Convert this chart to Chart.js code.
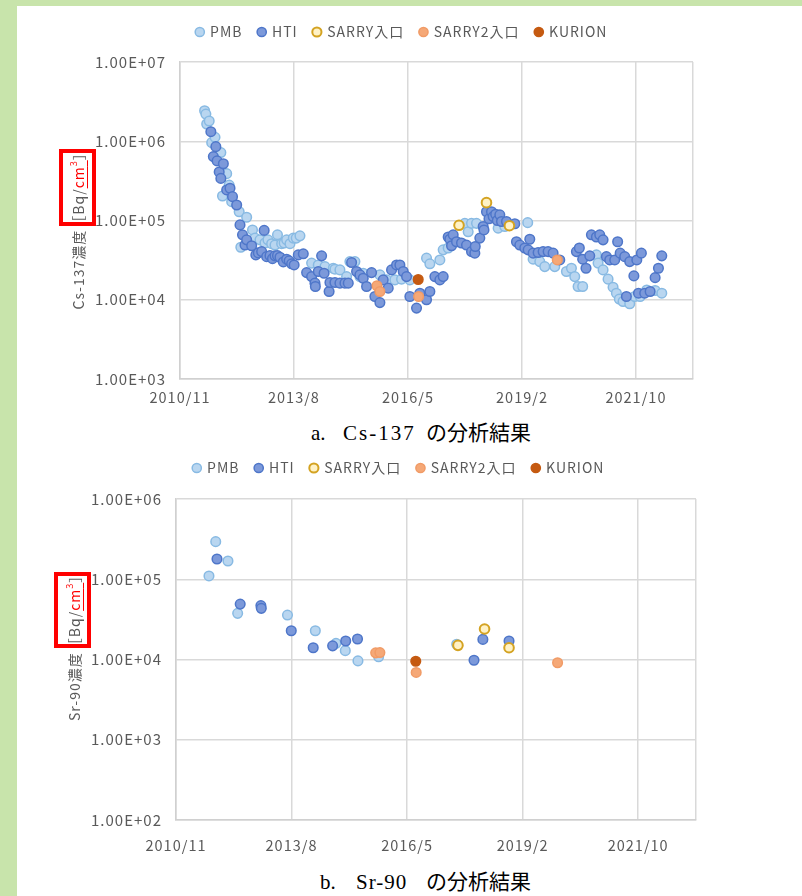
<!DOCTYPE html>
<html>
<head>
<meta charset="utf-8">
<script src="https://cdn.jsdelivr.net/npm/chart.js@4.4.1/dist/chart.umd.min.js"></script>
<style>
    html, body { margin: 0; padding: 0; }
    body { width: 802px; height: 896px; background: #c8e4ab; position: relative; overflow: hidden; }
    #sheet { position: absolute; left: 17px; top: 6px; width: 785px; height: 890px; background: #fff; }
    .chartBox { position: absolute; left: 17px; }
    #boxA { top: 6px; }
    #boxB { top: 440px; }
    .caption { position: absolute; font-family: "Liberation Serif", "Noto Sans CJK JP", serif; font-size: 21px; color: #000; white-space: nowrap; line-height: 24px; }
</style>
</head>
<body>
<div id="sheet"></div>
<div class="chartBox" id="boxA"><canvas id="chartA" width="785" height="413"></canvas></div>
<div class="caption" style="left:311px; top:421px;">a.</div>
<div class="caption" style="left:343px; top:421px; letter-spacing:2px;">Cs-137</div>
<div class="caption" style="left:426px; top:421px;">の分析結果</div>
<div class="chartBox" id="boxB"><canvas id="chartB" width="785" height="420"></canvas></div>
<div class="caption" style="left:320px; top:870px;">b.</div>
<div class="caption" style="left:356px; top:870px; letter-spacing:1px;">Sr-90</div>
<div class="caption" style="left:426px; top:870px;">の分析結果</div>
<script>
// 系列名
const seriesNames = ['PMB', 'HTI', 'SARRY入口', 'SARRY2入口', 'KURION'];

// x軸 (年, 小数) の目盛り
const xMin = 2010.879;
const xMax = 2023.2;
const xTickValues = [2010.879, 2013.616, 2016.355, 2019.093, 2021.830];
const xTickLabels = ['2010/11', '2013/8', '2016/5', '2019/2', '2021/10'];

// y軸の目盛り
const yTicksCs = [1e3, 1e4, 1e5, 1e6, 1e7];
const yTickLabelsCs = ['1.00E+03', '1.00E+04', '1.00E+05', '1.00E+06', '1.00E+07'];
const yTicksSr = [1e2, 1e3, 1e4, 1e5, 1e6];
const yTickLabelsSr = ['1.00E+02', '1.00E+03', '1.00E+04', '1.00E+05', '1.00E+06'];

// Cs-137 [年, Bq/cm3]
const csPMB = [
    [2011.47, 2.43e6], [2011.50, 2.2e6], [2011.52, 1.65e6], [2011.58, 1.8e6], [2011.64, 9.6e5],
    [2011.72, 1.12e6], [2011.86, 7.2e5], [2011.90, 2.04e5], [2012.00, 3.9e5], [2012.06, 2.8e5],
    [2012.12, 1.73e5], [2012.30, 1.29e5], [2012.34, 4.6e4], [2012.48, 1.1e5], [2012.62, 7.6e4],
    [2012.68, 6.0e4], [2012.80, 5.7e4], [2012.92, 5.2e4], [2012.99, 5.7e4], [2013.08, 5.1e4],
    [2013.16, 4.9e4], [2013.22, 6.6e4], [2013.32, 5.1e4], [2013.38, 5.2e4], [2013.44, 5.7e4],
    [2013.52, 5.1e4], [2013.60, 6.0e4], [2013.67, 6.0e4], [2013.76, 6.4e4], [2014.04, 2.9e4],
    [2014.20, 2.75e4], [2014.36, 2.62e4], [2014.56, 2.5e4], [2014.60, 2.43e4], [2014.72, 2.38e4],
    [2014.88, 1.96e4], [2014.96, 3.03e4], [2015.08, 3.03e4], [2015.20, 1.96e4], [2015.28, 2.16e4],
    [2015.68, 2.06e4], [2015.84, 1.78e4], [2016.04, 1.78e4], [2016.20, 1.82e4], [2016.40, 1.78e4],
    [2016.80, 3.35e4], [2016.88, 2.84e4], [2017.12, 3.18e4], [2017.20, 4.26e4], [2017.32, 4.5e4],
    [2017.52, 5.4e4], [2017.72, 9.2e4], [2017.80, 7.2e4], [2017.88, 9.2e4], [2018.00, 9.2e4],
    [2018.52, 8.0e4], [2018.68, 8.4e4], [2019.23, 9.4e4], [2019.36, 3.25e4], [2019.52, 3.03e4],
    [2019.64, 2.62e4], [2019.88, 2.62e4], [2020.16, 2.27e4], [2020.28, 2.5e4], [2020.36, 1.96e4],
    [2020.44, 1.47e4], [2020.55, 1.47e4], [2020.88, 3.68e4], [2020.92, 2.9e4], [2021.04, 2.38e4],
    [2021.16, 1.82e4], [2021.28, 1.44e4], [2021.36, 1.21e4], [2021.43, 1.02e4], [2021.52, 9.5e3],
    [2021.68, 8.9e3], [2021.80, 1.1e4], [2021.93, 1.1e4], [2022.09, 1.33e4], [2022.29, 1.31e4],
    [2022.45, 1.21e4]
];
const csHTI = [
    [2011.62, 1.32e6], [2011.68, 6.4e5], [2011.74, 8.55e5], [2011.77, 5.65e5], [2011.82, 4.1e5],
    [2011.86, 3.4e5], [2011.92, 5.2e5], [2012.00, 2.43e5], [2012.08, 2.55e5], [2012.14, 2.0e5],
    [2012.24, 1.57e5], [2012.32, 8.8e4], [2012.38, 6.6e4], [2012.44, 4.9e4], [2012.48, 5.7e4],
    [2012.60, 4.8e4], [2012.70, 3.68e4], [2012.76, 3.9e4], [2012.84, 4.05e4], [2012.90, 7.5e4],
    [2012.96, 3.5e4], [2013.04, 3.6e4], [2013.10, 3.3e4], [2013.16, 3.58e4], [2013.22, 3.6e4],
    [2013.28, 3.44e4], [2013.36, 3.0e4], [2013.44, 3.25e4], [2013.50, 3.1e4], [2013.56, 2.84e4],
    [2013.62, 2.75e4], [2013.72, 3.68e4], [2013.84, 3.8e4], [2013.92, 2.2e4], [2014.04, 1.96e4],
    [2014.12, 1.62e4], [2014.13, 1.47e4], [2014.20, 2.27e4], [2014.28, 3.58e4], [2014.34, 2.16e4],
    [2014.46, 1.27e4], [2014.48, 1.65e4], [2014.60, 1.65e4], [2014.72, 1.62e4], [2014.84, 1.62e4],
    [2014.92, 1.62e4], [2015.00, 2.95e4], [2015.12, 2.27e4], [2015.20, 2.06e4], [2015.28, 1.87e4],
    [2015.36, 1.47e4], [2015.48, 2.2e4], [2015.56, 1.1e4], [2015.68, 9.2e3], [2015.76, 1.78e4],
    [2015.88, 1.4e4], [2015.96, 2.38e4], [2016.08, 2.75e4], [2016.16, 2.75e4], [2016.24, 2.27e4],
    [2016.32, 1.96e4], [2016.40, 1.1e4], [2016.56, 7.85e3], [2016.64, 1.21e4], [2016.80, 1.0e4],
    [2016.88, 1.27e4], [2017.00, 1.96e4], [2017.12, 1.78e4], [2017.20, 1.96e4], [2017.32, 6.2e4],
    [2017.36, 5.8e4], [2017.40, 4.8e4], [2017.44, 6.6e4], [2017.52, 5.4e4], [2017.64, 5.2e4],
    [2017.76, 4.9e4], [2017.88, 4.05e4], [2017.96, 3.87e4], [2017.97, 4.7e4], [2018.08, 6.0e4],
    [2018.16, 8.4e4], [2018.18, 7.6e4], [2018.24, 1.29e5], [2018.30, 1.05e5], [2018.36, 1.29e5],
    [2018.40, 1.12e5], [2018.46, 1.2e5], [2018.50, 1.0e5], [2018.56, 1.18e5], [2018.60, 9.7e4],
    [2018.72, 9.7e4], [2018.92, 9.1e4], [2018.96, 5.4e4], [2019.04, 4.9e4], [2019.16, 4.5e4],
    [2019.24, 4.26e4], [2019.28, 5.8e4], [2019.36, 3.87e4], [2019.48, 3.95e4], [2019.60, 4.05e4],
    [2019.72, 4.05e4], [2019.84, 3.87e4], [2020.00, 3.18e4], [2020.40, 4.05e4], [2020.47, 4.5e4],
    [2020.55, 3.25e4], [2020.63, 2.5e4], [2020.72, 3.58e4], [2020.76, 6.6e4], [2020.88, 6.2e4],
    [2020.96, 6.6e4], [2021.04, 5.7e4], [2021.12, 3.5e4], [2021.20, 3.18e4], [2021.32, 3.18e4],
    [2021.39, 5.4e4], [2021.45, 3.87e4], [2021.56, 3.5e4], [2021.60, 1.1e4], [2021.68, 3.03e4],
    [2021.78, 2.0e4], [2021.85, 3.18e4], [2021.89, 1.21e4], [2021.96, 3.87e4], [2022.04, 1.21e4],
    [2022.17, 1.27e4], [2022.29, 1.9e4], [2022.37, 2.5e4], [2022.45, 3.58e4]
];
const csSARRY = [[2017.58, 8.7e4], [2018.24, 1.68e5], [2018.79, 8.6e4]];
const csSARRY2 = [[2015.61, 1.5e4], [2015.68, 1.27e4], [2016.61, 1.1e4], [2019.94, 3.18e4]];
const csKURION = [[2016.60, 1.8e4]];

// Sr-90 [年, Bq/cm3]
const srPMB = [
    [2011.66, 1.1e5], [2011.82, 2.94e5], [2012.11, 1.69e5], [2012.34, 3.76e4], [2013.52, 3.58e4],
    [2014.18, 2.28e4], [2014.67, 1.59e4], [2014.89, 1.29e4], [2015.19, 9.6e3], [2015.68, 1.08e4],
    [2017.53, 1.55e4]
];
const srHTI = [
    [2011.85, 1.79e5], [2012.40, 4.9e4], [2012.89, 4.7e4], [2012.90, 4.34e4], [2013.61, 2.28e4],
    [2014.13, 1.4e4], [2014.59, 1.48e4], [2014.90, 1.7e4], [2015.18, 1.8e4], [2017.94, 9.8e3],
    [2018.15, 1.78e4], [2018.77, 1.7e4]
];
const srSARRY = [[2017.56, 1.5e4], [2018.19, 2.4e4], [2018.77, 1.4e4]];
const srSARRY2 = [[2015.61, 1.21e4], [2015.71, 1.22e4], [2016.57, 6.9e3], [2019.92, 9.1e3]];
const srKURION = [[2016.56, 9.5e3]];

const fontFamily = '"Noto Sans CJK JP", "Noto Sans", sans-serif';
const gray = '#595959';

// 系列ごとの見た目
const seriesStyles = [
    { bg: '#b9d6f0', border: '#88bae3', bw: 1.5 },
    { bg: '#7c99da', border: '#4e76c9', bw: 1.5 },
    { bg: '#fff2c6', border: '#d4a322', bw: 2 },
    { bg: '#f5a877', border: '#f19b66', bw: 1.5 },
    { bg: '#c55a11', border: '#c55a11', bw: 1.5 }
];

function makeDatasets(lists) {
    return lists.map((list, i) => ({
        label: seriesNames[i],
        data: list.map(p => ({ x: p[0], y: p[1] })),
        backgroundColor: seriesStyles[i].bg,
        borderColor: seriesStyles[i].border,
        borderWidth: seriesStyles[i].bw,
        pointRadius: 4.8,
        pointHoverRadius: 4.8,
        order: lists.length - i
    }));
}

// 縦軸タイトルと赤枠、凡例の位置調整、字間
const axisTitlePlugin = {
    id: 'axisTitle',
    afterInit(chart, args, opts) {
        const legend = chart.legend;
        const fit = legend.fit;
        const h = opts.legendHeight;
        legend.fit = function() {
            fit.call(this);
            this.height = h;
        };
    },
    beforeUpdate(chart) {
        chart.ctx.letterSpacing = '1px';
    },
    beforeDraw(chart) {
        chart.ctx.letterSpacing = '1px';
    },
    afterLayout(chart, args, opts) {
        const lg = chart.legend;
        const shift = opts.legendCenter - (lg.left + lg.right) / 2;
        lg.left += shift;
        lg.right += shift;
    },
    afterDraw(chart, args, opts) {
        const ctx = chart.ctx;
        const font = '14px ' + fontFamily;
        const supFont = '9px ' + fontFamily;
        const parts = opts.parts;
        ctx.save();
        const widths = parts.map(p => {
            ctx.font = p.sup ? supFont : font;
            return ctx.measureText(p.t).width;
        });
        const unitW = widths.slice(1).reduce((a, b) => a + b, 0);
        const start = opts.boxCenterY + unitW / 2 + widths[0];
        ctx.translate(opts.x, start);
        ctx.rotate(-Math.PI / 2);
        ctx.textBaseline = 'middle';
        let cur = 0;
        parts.forEach((p, i) => {
            ctx.font = p.sup ? supFont : font;
            ctx.fillStyle = p.c;
            ctx.fillText(p.t, cur, p.sup ? -5 : 0);
            if (p.u) {
                ctx.fillRect(cur, 8, widths[i], 1);
            }
            cur += widths[i];
        });
        ctx.restore();

        ctx.save();
        ctx.strokeStyle = '#ff0000';
        ctx.lineWidth = 4;
        const b = opts.box;
        ctx.strokeRect(b[0], b[1], b[2], b[3]);
        ctx.restore();
    }
};

function unitParts(head) {
    return [
        { t: head, c: gray },
        { t: '［Bq/', c: gray },
        { t: 'cm', c: '#ff0000', u: true },
        { t: '3', c: '#ff0000', sup: true, u: true },
        { t: '］', c: gray }
    ];
}

function makeChart(id, lists, yMin, yMax, yTicks, yTickLabels, cfg) {
    const ctx = document.getElementById(id).getContext('2d');
    return new Chart(ctx, {
        type: 'scatter',
        data: { datasets: makeDatasets(lists) },
        options: {
            responsive: false,
            animation: false,
            events: [],
            layout: { padding: { top: cfg.padTop, right: cfg.padRight, left: 0, bottom: 0 } },
            plugins: {
                tooltip: { enabled: false },
                legend: {
                    position: 'top',
                    labels: {
                        usePointStyle: true,
                        pointStyle: 'circle',
                        boxWidth: 6.5,
                        boxHeight: 6.5,
                        padding: 16,
                        color: gray,
                        font: { family: fontFamily, size: 14 },
                        sort: (a, b) => a.datasetIndex - b.datasetIndex
                    }
                },
                axisTitle: {
                    legendHeight: cfg.legendHeight,
                    legendCenter: cfg.legendCenter,
                    parts: unitParts(cfg.title),
                    x: cfg.titleX,
                    boxCenterY: cfg.boxCenterY,
                    box: cfg.box
                }
            },
            scales: {
                x: {
                    type: 'linear',
                    min: xMin,
                    max: xMax,
                    afterBuildTicks: s => { s.ticks = xTickValues.concat([xMax]).map(v => ({ value: v })); },
                    afterFit: s => { s.height = 40; },
                    grid: { color: '#d9d9d9', lineWidth: 1.5, drawTicks: false },
                    border: { color: '#d0d0d0', width: 1.5 },
                    ticks: {
                        autoSkip: false,
                        maxRotation: 0,
                        padding: cfg.xPad,
                        color: gray,
                        font: { family: fontFamily, size: 14.5 },
                        callback: (v, i) => xTickLabels[i] || ''
                    }
                },
                y: {
                    type: 'logarithmic',
                    min: yMin,
                    max: yMax,
                    afterBuildTicks: s => { s.ticks = yTicks.map(v => ({ value: v })); },
                    afterFit: s => { s.width = cfg.yWidth; },
                    grid: { color: '#d9d9d9', lineWidth: 1.5, drawTicks: false },
                    border: { color: '#d0d0d0', width: 1.5 },
                    ticks: {
                        padding: 14,
                        color: gray,
                        font: { family: fontFamily, size: 15 },
                        callback: (v, i) => yTickLabels[i]
                    }
                }
            }
        },
        plugins: [axisTitlePlugin]
    });
}

makeChart('chartA', [csPMB, csHTI, csSARRY, csSARRY2, csKURION], 1e3, 1e7, yTicksCs, yTickLabelsCs, {
    padTop: 3, padRight: 109, legendHeight: 53, legendCenter: 385, xPad: 10, yWidth: 163,
    title: 'Cs-137濃度', titleX: 62, boxCenterY: 181.5, box: [44, 145, 33, 73]
});

makeChart('chartB', [srPMB, srHTI, srSARRY, srSARRY2, srKURION], 1e2, 1e6, yTicksSr, yTickLabelsSr, {
    padTop: 5, padRight: 106, legendHeight: 54, legendCenter: 382, xPad: 17, yWidth: 159,
    title: 'Sr-90濃度', titleX: 58, boxCenterY: 170, box: [39, 134, 33, 72]
});
</script>
</body>
</html>
